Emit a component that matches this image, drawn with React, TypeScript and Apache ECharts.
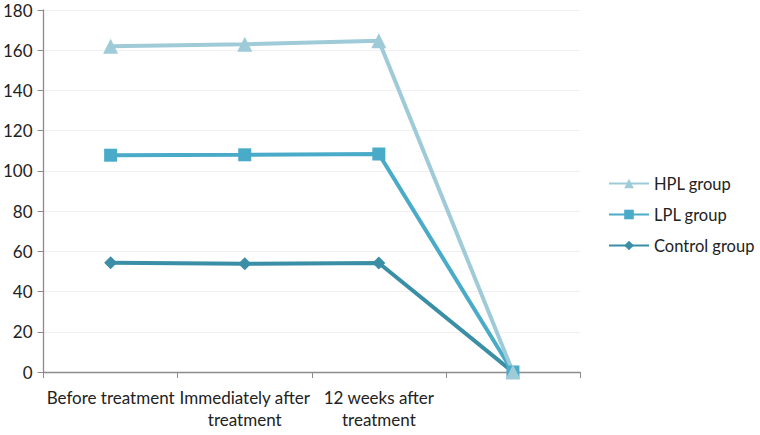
import React, { useEffect, useRef } from "react";
import * as echarts from "echarts";

const categories = ["Before treatment", "Immediately after\ntreatment", "12 weeks after\ntreatment", ""];
const hplValues = [162, 163, 164.7, 0];
const lplValues = [107.8, 108, 108.4, 0];
const controlValues = [54.3, 53.8, 54.2, 0];
const yTicks = { min: 0, max: 180, interval: 20 };

export default function App() {
  const ref = useRef<HTMLDivElement>(null);
  useEffect(() => {
    const chart = echarts.init(ref.current!, null, { renderer: "svg" });
    const font = "Lato, 'Open Sans', sans-serif";
    chart.setOption({
      animation: false,
      backgroundColor: "#ffffff",
      textStyle: { fontFamily: font },
      grid: { left: 43, right: 180, top: 10, bottom: 63 },
      legend: {
        orient: "vertical",
        left: 603,
        top: 170,
        padding: 5,
        itemWidth: 40,
        itemHeight: 12,
        itemGap: 14,
        textStyle: { fontSize: 16.5, color: "#222", fontFamily: font },
        data: ["HPL group", "LPL group", "Control group"],
      },
      xAxis: {
        type: "category",
        data: categories,
        boundaryGap: true,
        axisLine: { lineStyle: { color: "#8c8c8c", width: 1.3 } },
        axisTick: { show: true, interval: 0, length: 6, lineStyle: { color: "#8c8c8c" } },
        axisLabel: { interval: 0, fontSize: 17, color: "#222", margin: 14, lineHeight: 22, fontFamily: font },
      },
      yAxis: {
        type: "value",
        min: yTicks.min,
        max: yTicks.max,
        interval: yTicks.interval,
        axisLine: { show: true, lineStyle: { color: "#8c8c8c", width: 1.3 } },
        axisTick: { show: true, length: 6, lineStyle: { color: "#8c8c8c" } },
        axisLabel: { fontSize: 17, color: "#222", margin: 11, fontFamily: font },
        splitLine: { lineStyle: { color: "#f0f0f0" } },
      },
      series: [
        {
          name: "Control group",
          type: "line",
          data: controlValues,
          symbol: "diamond",
          symbolSize: 13,
          lineStyle: { width: 4, color: "#3a8ea6" },
          itemStyle: { color: "#3a8ea6" },
        },
        {
          name: "LPL group",
          type: "line",
          data: lplValues,
          symbol: "rect",
          symbolSize: 13,
          lineStyle: { width: 4, color: "#4aabc8" },
          itemStyle: { color: "#4aabc8" },
        },
        {
          name: "HPL group",
          type: "line",
          data: hplValues,
          symbol: "triangle",
          symbolSize: 15,
          lineStyle: { width: 4, color: "#9fcbd9" },
          itemStyle: { color: "#9fcbd9" },
        },
      ],
    });
    return () => chart.dispose();
  }, []);
  return <div ref={ref} style={{ width: 760, height: 435, position: "absolute", left: 0, top: 0 }} />;
}
